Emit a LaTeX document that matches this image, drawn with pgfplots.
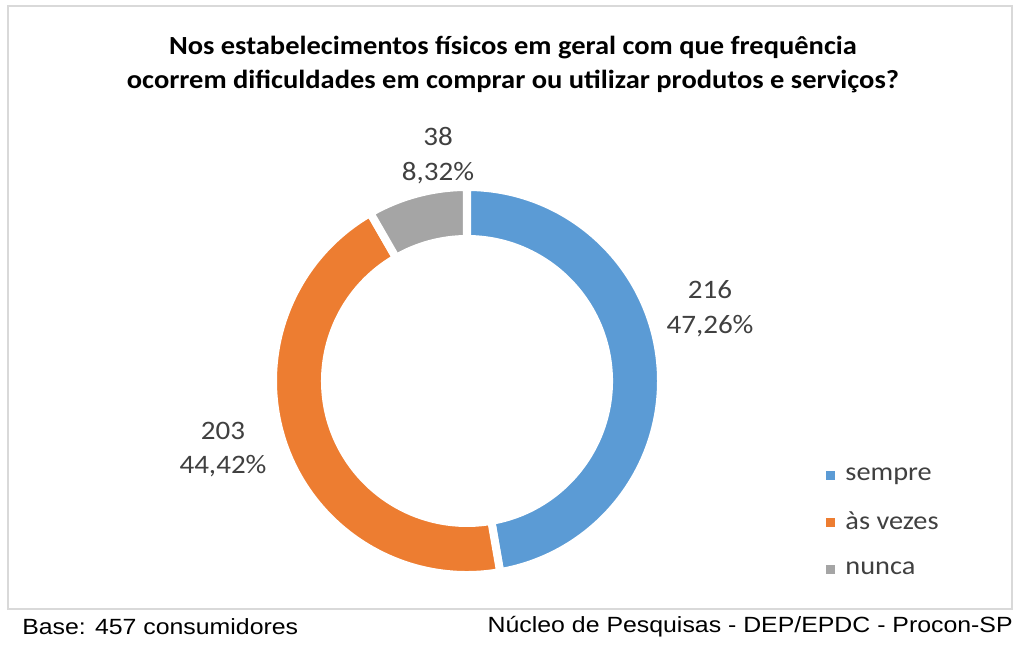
\documentclass[border=0pt]{standalone}
\usepackage{pgfplots}
\usepackage{pgfplotstable}
\pgfplotsset{compat=1.18}
\usepackage{fontspec}
\setmainfont{Carlito}
\newfontfamily\arialfont{Liberation Sans}
\pgfkeys{/pgf/number format/assume math mode=true}

\definecolor{cBlue}{HTML}{5B9BD5}
\definecolor{cOrange}{HTML}{ED7D31}
\definecolor{cGray}{HTML}{A5A5A5}
\definecolor{moldura}{HTML}{D9D9D9}
\definecolor{txt}{HTML}{404040}

% respostas (n = 457)
\pgfplotstableread{
nome valor
sempre 216
{às vezes} 203
nunca 38
}\dados

% the reference text is a bit wider than tall
\newcommand\sx[1]{\scalebox{1.09}[1]{#1}}
\pgfplotsset{sq/.style={legend image code/.code={\fill[#1] (0pt,-3pt) rectangle (6pt,3pt); \path (12pt,0pt);}}}

\begin{document}
\begin{tikzpicture}
\pgfplotstablegetelem{0}{valor}\of\dados \let\vA\pgfplotsretval
\pgfplotstablegetelem{1}{valor}\of\dados \let\vB\pgfplotsretval
\pgfplotstablegetelem{2}{valor}\of\dados \let\vC\pgfplotsretval
\pgfplotstablegetelem{0}{nome}\of\dados \let\nA\pgfplotsretval
\pgfplotstablegetelem{1}{nome}\of\dados \let\nB\pgfplotsretval
\pgfplotstablegetelem{2}{nome}\of\dados \let\nC\pgfplotsretval
\pgfmathsetmacro\tot{\vA+\vB+\vC}
% angles: start at 12 o'clock, clockwise
\pgfmathsetmacro\aA{90-360*(\vA/\tot)}
\pgfmathsetmacro\aB{\aA-360*(\vB/\tot)}
\pgfmathsetmacro\aC{\aB-360*(\vC/\tot)}
\edef\pA{\fpeval{round(100*\vA/\tot,2)}}
\edef\pB{\fpeval{round(100*\vB/\tot,2)}}
\edef\pC{\fpeval{round(100*\vC/\tot,2)}}
\def\pct#1{\pgfmathprintnumber[fixed,fixed zerofill,precision=2,use comma]{#1}\%}
\def\R{145.5pt}
\def\r{106.5pt}
\def\lab{\fontsize{20}{26}\selectfont}
\begin{axis}[
    scale only axis,
    width=767.25pt, height=486pt,
    xmin=0, xmax=1023, ymin=0, ymax=648,
    hide axis, clip=false,
    legend style={draw=none, fill=none, at={(axis cs:822,126)}, anchor=west,
        font=\fontsize{19.5}{23}\selectfont\color{txt}, row sep=18.5pt},
    legend cell align=left,
]
\path (axis cs:0,0) rectangle (axis cs:1023,648);
\draw[moldura, line width=1.2pt] (axis cs:8,642) rectangle (axis cs:1012,39);

\coordinate (c) at (axis cs:467,267);
\fill[cBlue, draw=white, line width=6pt]
    ([shift={(90:\R)}]c) arc[start angle=90, end angle=\aA, radius=\R]
    -- ([shift={(\aA:\r)}]c) arc[start angle=\aA, end angle=90, radius=\r] -- cycle;
\fill[cOrange, draw=white, line width=6pt]
    ([shift={(\aA:\R)}]c) arc[start angle=\aA, end angle=\aB, radius=\R]
    -- ([shift={(\aB:\r)}]c) arc[start angle=\aB, end angle=\aA, radius=\r] -- cycle;
\fill[cGray, draw=white, line width=6pt]
    ([shift={(\aB:\R)}]c) arc[start angle=\aB, end angle=\aC, radius=\R]
    -- ([shift={(\aC:\r)}]c) arc[start angle=\aC, end angle=\aB, radius=\r] -- cycle;

\node[txt, font=\lab, inner sep=0pt] at (axis cs:710,339)
    {\sx{\begin{tabular}{@{}c@{}}\vA\\\pct{\pA}\end{tabular}}};
\node[txt, font=\lab, inner sep=0pt] at (axis cs:223,198.5)
    {\sx{\begin{tabular}{@{}c@{}}\vB\\\pct{\pB}\end{tabular}}};
\node[txt, font=\lab, inner sep=0pt] at (axis cs:438,492)
    {\sx{\begin{tabular}{@{}c@{}}\vC\\\pct{\pC}\end{tabular}}};

\node[font=\bfseries\fontsize{19.6}{25.5}\selectfont, inner sep=0pt] at (axis cs:513,583)
    {\sx{\begin{tabular}{@{}c@{}}Nos estabelecimentos físicos em geral com que frequência\\
     ocorrem dificuldades em comprar ou utilizar produtos e serviços?\end{tabular}}};

\node[anchor=west, inner sep=0pt, font=\arialfont\fontsize{16.5}{20}\selectfont]
    at (axis cs:22,21) {\scalebox{1.13}[1]{Base: 457 consumidores}};
\node[anchor=east, inner sep=0pt, font=\arialfont\fontsize{16.5}{20}\selectfont]
    at (axis cs:1013,21) {\scalebox{1.13}[1]{Núcleo de Pesquisas - DEP/EPDC - Procon-SP}};

\addlegendimage{sq=cBlue}
\addlegendentry{\sx{\nA}}
\addlegendimage{sq=cOrange}
\addlegendentry{\sx{\nB}}
\addlegendimage{sq=cGray}
\addlegendentry{\sx{\nC}}
\end{axis}
\end{tikzpicture}
\end{document}
